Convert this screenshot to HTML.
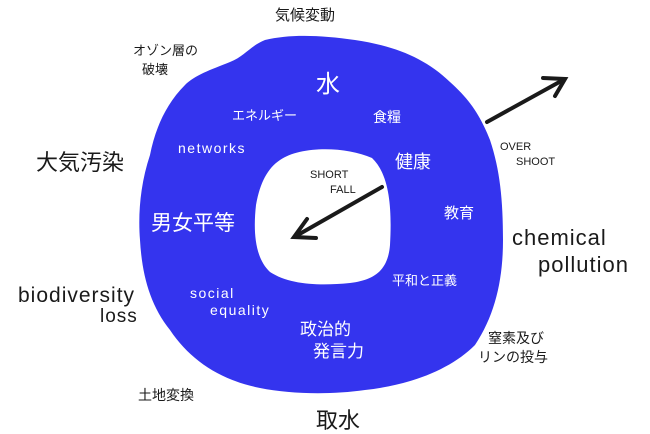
<!DOCTYPE html>
<html><head><meta charset="utf-8"><style>
html,body{margin:0;padding:0;background:#fff;width:650px;height:434px;overflow:hidden}
svg text{font-family:"Liberation Sans","Noto Sans CJK JP",sans-serif}
</style></head><body>
<svg width="650" height="434" viewBox="0 0 650 434" xmlns="http://www.w3.org/2000/svg">
<path fill-rule="evenodd" fill="#3434ee" d="
M265,40 C250,46 245,56 230,62 C210,70 195,75 185,85 C165,105 155,130 150,155 C140,185 138,215 140,240 C142,275 150,305 170,330 C190,360 220,380 260,388 C290,394 330,395 365,390 C410,385 450,370 475,345 C495,315 503,280 503,240 C503,200 500,170 490,140 C480,115 470,100 450,82 C425,58 395,46 355,40 C320,35 290,34 265,40 Z
M280,160 C300,146 345,146 372,158 C390,175 392,210 390,245 C388,270 375,280 350,283 C320,286 290,285 270,272 C255,258 253,232 256,205 C260,182 268,168 280,160 Z"/>
<g stroke="#1a1a1a" stroke-width="4" fill="none" stroke-linecap="round">
<line x1="382" y1="187" x2="296" y2="236"/>
<polyline points="307,219 294,237 316,238"/>
<line x1="487" y1="122" x2="563" y2="80"/>
<polyline points="543,78 565,79 555,96"/>
</g>
<g fill="#fff">
<text x="316" y="92" font-size="24">水</text>
<text x="232" y="120" font-size="13">エネルギー</text>
<text x="373" y="122" font-size="14">食糧</text>
<text x="178" y="153" font-size="14" letter-spacing="1.5">networks</text>
<text x="395" y="168" font-size="18">健康</text>
<text x="444" y="218" font-size="15">教育</text>
<text x="151" y="230" font-size="21">男女平等</text>
<text x="392" y="285" font-size="13">平和と正義</text>
<text x="190" y="298" font-size="14" letter-spacing="1.5">social</text>
<text x="210" y="315" font-size="14" letter-spacing="1.5">equality</text>
<text x="300" y="335" font-size="17">政治的</text>
<text x="313" y="357" font-size="17">発言力</text>
</g>
<g fill="#1a1a1a">
<text x="275" y="20" font-size="15">気候変動</text>
<text x="133" y="55" font-size="13">オゾン層の</text>
<text x="142" y="74" font-size="13">破壊</text>
<text x="36" y="170" font-size="22">大気汚染</text>
<text x="310" y="178" font-size="11">SHORT</text>
<text x="330" y="193" font-size="11">FALL</text>
<text x="500" y="150" font-size="11">OVER</text>
<text x="516" y="165" font-size="11">SHOOT</text>
<text x="512" y="245" font-size="22" letter-spacing="1">chemical</text>
<text x="538" y="272" font-size="22" letter-spacing="1">pollution</text>
<text x="18" y="302" font-size="21" letter-spacing="1">biodiversity</text>
<text x="100" y="322" font-size="19" letter-spacing="1">loss</text>
<text x="488" y="343" font-size="14">窒素及び</text>
<text x="478" y="362" font-size="14">リンの投与</text>
<text x="138" y="400" font-size="14">土地変換</text>
<text x="316" y="428" font-size="22">取水</text>
</g>
</svg>
</body></html>
